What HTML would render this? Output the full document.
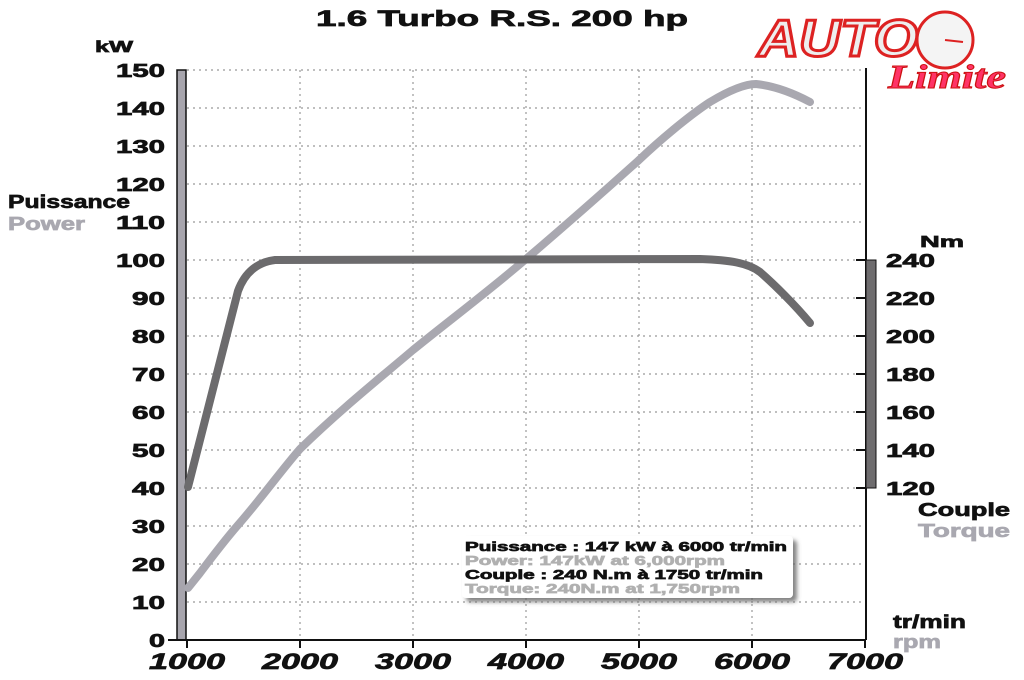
<!DOCTYPE html>
<html><head><style>
body{margin:0;background:#fff;}
svg{display:block;font-family:"Liberation Sans",Arial,sans-serif;font-weight:bold;}
.f{stroke:currentColor;stroke-width:0.7;}
</style></head><body>
<svg width="1024" height="680" viewBox="0 0 1024 680">
<defs><filter id="sh" x="-10%" y="-10%" width="130%" height="140%"><feDropShadow dx="4" dy="4" stdDeviation="2" flood-color="#666" flood-opacity="0.8"/></filter></defs>
<text x="316" y="26" font-size="22" textLength="372" lengthAdjust="spacingAndGlyphs" fill="#111" class="f" style="color:#111">1.6 Turbo R.S. 200 hp</text>
<text x="758" y="56" font-size="52" font-style="italic" fill="#eee" stroke="#d22" stroke-width="3" textLength="160" lengthAdjust="spacingAndGlyphs">AUTO</text>
<circle cx="945" cy="40" r="28" fill="#f4f4f4" stroke="#d22" stroke-width="3"/>
<line x1="945" y1="40" x2="963" y2="42" stroke="#d22" stroke-width="2"/>
<text x="888" y="88" font-size="34" font-style="italic" fill="#f36" stroke="#c11" stroke-width="1" font-family="Liberation Serif" textLength="118" lengthAdjust="spacingAndGlyphs">Limite</text>
<g stroke="#999" stroke-width="1.2" stroke-dasharray="2,4">
<line x1="187" y1="70" x2="866" y2="70"/><line x1="187" y1="108" x2="866" y2="108"/><line x1="187" y1="146" x2="866" y2="146"/><line x1="187" y1="184" x2="866" y2="184"/><line x1="187" y1="222" x2="866" y2="222"/><line x1="187" y1="260" x2="866" y2="260"/><line x1="187" y1="298" x2="866" y2="298"/><line x1="187" y1="336" x2="866" y2="336"/><line x1="187" y1="374" x2="866" y2="374"/><line x1="187" y1="412" x2="866" y2="412"/><line x1="187" y1="450" x2="866" y2="450"/><line x1="187" y1="488" x2="866" y2="488"/><line x1="187" y1="526" x2="866" y2="526"/><line x1="187" y1="564" x2="866" y2="564"/><line x1="187" y1="602" x2="866" y2="602"/>
<line x1="300" y1="70" x2="300" y2="640"/><line x1="413" y1="70" x2="413" y2="640"/><line x1="526" y1="70" x2="526" y2="640"/><line x1="639" y1="70" x2="639" y2="640"/><line x1="752" y1="70" x2="752" y2="640"/>
</g>
<line x1="866" y1="68" x2="866" y2="640" stroke="#111" stroke-width="2"/>
<rect x="177" y="70" width="9" height="570" fill="#a7a5ad" stroke="#111" stroke-width="1.5"/>
<rect x="866" y="260" width="10" height="228" fill="#6e6c6e" stroke="#111" stroke-width="1"/>
<g stroke="#111" stroke-width="2"><line x1="856" y1="260" x2="866" y2="260"/><line x1="856" y1="298" x2="866" y2="298"/><line x1="856" y1="336" x2="866" y2="336"/><line x1="856" y1="374" x2="866" y2="374"/><line x1="856" y1="412" x2="866" y2="412"/><line x1="856" y1="450" x2="866" y2="450"/><line x1="856" y1="488" x2="866" y2="488"/></g>
<line x1="168" y1="640" x2="866" y2="640" stroke="#111" stroke-width="2"/>
<g stroke="#111" stroke-width="2"><line x1="187" y1="640" x2="187" y2="648"/><line x1="300" y1="640" x2="300" y2="648"/><line x1="413" y1="640" x2="413" y2="648"/><line x1="526" y1="640" x2="526" y2="648"/><line x1="639" y1="640" x2="639" y2="648"/><line x1="752" y1="640" x2="752" y2="648"/><line x1="865" y1="640" x2="865" y2="648"/></g>
<path d="M188,588 L200,573 C215,553 225,540 238,525 C260,500 280,472 300,449 C340,410 380,378 413,350 C450,320 490,290 526,259 C560,230 600,195 639,160 C660,140 690,115 710,102 C730,90 745,84 756,84 C775,86 795,94 810,102" fill="none" stroke="#a9a8b0" stroke-width="8" stroke-linecap="round"/>
<path d="M188,487 L238,291 C245,272 258,262 275,260 L700,259 C730,260 748,263 760,272 C775,285 795,305 810,323" fill="none" stroke="#6c6b6d" stroke-width="8" stroke-linecap="round"/>
<g font-size="18" fill="#111" class="f" style="color:#111">
<text x="116" y="77" textLength="49" lengthAdjust="spacingAndGlyphs">150</text><text x="116" y="115" textLength="49" lengthAdjust="spacingAndGlyphs">140</text><text x="116" y="153" textLength="49" lengthAdjust="spacingAndGlyphs">130</text><text x="116" y="191" textLength="49" lengthAdjust="spacingAndGlyphs">120</text><text x="116" y="229" textLength="49" lengthAdjust="spacingAndGlyphs">110</text><text x="116" y="267" textLength="49" lengthAdjust="spacingAndGlyphs">100</text><text x="132" y="305" textLength="33" lengthAdjust="spacingAndGlyphs">90</text><text x="132" y="343" textLength="33" lengthAdjust="spacingAndGlyphs">80</text><text x="132" y="381" textLength="33" lengthAdjust="spacingAndGlyphs">70</text><text x="132" y="419" textLength="33" lengthAdjust="spacingAndGlyphs">60</text><text x="132" y="457" textLength="33" lengthAdjust="spacingAndGlyphs">50</text><text x="132" y="495" textLength="33" lengthAdjust="spacingAndGlyphs">40</text><text x="132" y="533" textLength="33" lengthAdjust="spacingAndGlyphs">30</text><text x="132" y="571" textLength="33" lengthAdjust="spacingAndGlyphs">20</text><text x="132" y="609" textLength="33" lengthAdjust="spacingAndGlyphs">10</text><text x="149" y="647" textLength="16" lengthAdjust="spacingAndGlyphs">0</text>
</g>
<text x="95" y="52" font-size="16" fill="#111" class="f" style="color:#111" textLength="38" lengthAdjust="spacingAndGlyphs">kW</text>
<text x="8" y="208" font-size="18" fill="#111" class="f" style="color:#111" textLength="122" lengthAdjust="spacingAndGlyphs">Puissance</text>
<text x="8" y="230" font-size="18" fill="#a9a8b0" class="f" style="color:#a9a8b0" textLength="77" lengthAdjust="spacingAndGlyphs">Power</text>
<g font-size="18" fill="#111" class="f" style="color:#111"><text x="886" y="267" textLength="49" lengthAdjust="spacingAndGlyphs">240</text><text x="886" y="305" textLength="49" lengthAdjust="spacingAndGlyphs">220</text><text x="886" y="343" textLength="49" lengthAdjust="spacingAndGlyphs">200</text><text x="886" y="381" textLength="49" lengthAdjust="spacingAndGlyphs">180</text><text x="886" y="419" textLength="49" lengthAdjust="spacingAndGlyphs">160</text><text x="886" y="457" textLength="49" lengthAdjust="spacingAndGlyphs">140</text><text x="886" y="495" textLength="49" lengthAdjust="spacingAndGlyphs">120</text></g>
<text x="920" y="247" font-size="16" fill="#111" class="f" style="color:#111" textLength="44" lengthAdjust="spacingAndGlyphs">Nm</text>
<text x="918" y="516" font-size="18" fill="#111" class="f" style="color:#111" textLength="92" lengthAdjust="spacingAndGlyphs">Couple</text>
<text x="918" y="537" font-size="18" fill="#a9a8b0" class="f" style="color:#a9a8b0" textLength="92" lengthAdjust="spacingAndGlyphs">Torque</text>
<text x="893" y="628" font-size="18" fill="#111" class="f" style="color:#111" textLength="73" lengthAdjust="spacingAndGlyphs">tr/min</text>
<text x="893" y="648" font-size="18" fill="#a9a8b0" class="f" style="color:#a9a8b0" textLength="48" lengthAdjust="spacingAndGlyphs">rpm</text>
<g font-size="22" font-style="italic" fill="#111" class="f" style="color:#111">
<text x="149" y="669" textLength="76" lengthAdjust="spacingAndGlyphs">1000</text><text x="262" y="669" textLength="76" lengthAdjust="spacingAndGlyphs">2000</text><text x="375" y="669" textLength="76" lengthAdjust="spacingAndGlyphs">3000</text><text x="488" y="669" textLength="76" lengthAdjust="spacingAndGlyphs">4000</text><text x="601" y="669" textLength="76" lengthAdjust="spacingAndGlyphs">5000</text><text x="714" y="669" textLength="76" lengthAdjust="spacingAndGlyphs">6000</text><text x="827" y="669" textLength="76" lengthAdjust="spacingAndGlyphs">7000</text></g>
<rect x="462" y="536" width="331" height="62" rx="4" fill="#fff" filter="url(#sh)"/>
<g font-size="13" class="f">
<text x="465" y="551" fill="#111" style="color:#111" textLength="322" lengthAdjust="spacingAndGlyphs">Puissance : 147 kW à 6000 tr/min</text>
<text x="465" y="565" fill="#b0b0b0" style="color:#b0b0b0" textLength="260" lengthAdjust="spacingAndGlyphs">Power: 147kW at 6,000rpm</text>
<text x="465" y="579" fill="#111" style="color:#111" textLength="298" lengthAdjust="spacingAndGlyphs">Couple : 240 N.m à 1750 tr/min</text>
<text x="465" y="593" fill="#b0b0b0" style="color:#b0b0b0" textLength="275" lengthAdjust="spacingAndGlyphs">Torque: 240N.m at 1,750rpm</text>
</g>
</svg>
</body></html>
